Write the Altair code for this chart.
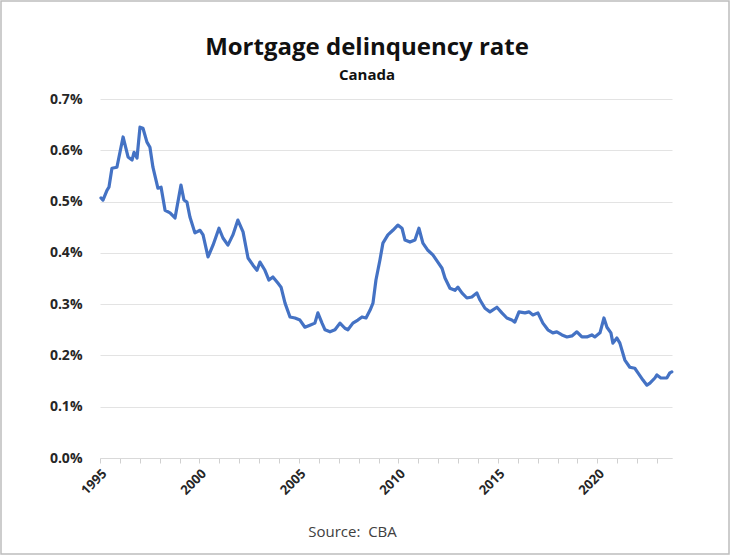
import altair as alt
import pandas as pd

years = [1995.05, 1995.15, 1995.35, 1995.45, 1995.6, 1995.85, 1996.16, 1996.41, 1996.61, 1996.71,
         1996.86, 1997.01, 1997.16, 1997.36, 1997.51, 1997.66, 1997.91, 1998.07, 1998.27, 1998.52,
         1998.77, 1999.07, 1999.22, 1999.37, 1999.52, 1999.77, 2000.03, 2000.18, 2000.43, 2000.68,
         2000.98, 2001.18, 2001.43, 2001.68, 2001.93, 2002.19, 2002.44, 2002.69, 2002.89, 2003.04,
         2003.29, 2003.49, 2003.69, 2003.94, 2004.10, 2004.30, 2004.55, 2004.80, 2005.05, 2005.30,
         2005.55, 2005.80, 2005.95, 2006.16, 2006.31, 2006.56, 2006.81, 2007.06, 2007.31, 2007.46,
         2007.71, 2007.96, 2008.17, 2008.37, 2008.57, 2008.72, 2008.87, 2009.07, 2009.22, 2009.47,
         2009.72, 2009.97, 2010.18, 2010.33, 2010.58, 2010.83, 2011.03, 2011.23, 2011.48, 2011.73,
         2011.98, 2012.19, 2012.34, 2012.59, 2012.84, 2012.99, 2013.19, 2013.44, 2013.69, 2013.94,
         2014.10, 2014.35, 2014.60, 2014.95, 2015.20, 2015.45, 2015.70, 2015.85, 2016.06, 2016.36,
         2016.56, 2016.76, 2017.01, 2017.26, 2017.51, 2017.76, 2017.96, 2018.22, 2018.47, 2018.72,
         2018.97, 2019.22, 2019.47, 2019.72, 2019.87, 2020.13, 2020.33, 2020.48, 2020.68, 2020.78,
         2020.98, 2021.13, 2021.38, 2021.63, 2021.88, 2022.04, 2022.29, 2022.49, 2022.64, 2022.89,
         2022.99, 2023.19, 2023.49, 2023.64, 2023.74]

rates = [0.507, 0.503, 0.522, 0.528, 0.565, 0.567, 0.626, 0.587, 0.581, 0.596,
         0.585, 0.645, 0.643, 0.616, 0.606, 0.567, 0.526, 0.528, 0.483, 0.478,
         0.468, 0.532, 0.503, 0.499, 0.470, 0.439, 0.444, 0.435, 0.392, 0.415,
         0.448, 0.429, 0.415, 0.435, 0.464, 0.441, 0.390, 0.376, 0.366, 0.382,
         0.366, 0.347, 0.353, 0.341, 0.333, 0.302, 0.275, 0.273, 0.269, 0.255,
         0.259, 0.263, 0.283, 0.263, 0.250, 0.246, 0.250, 0.263, 0.253, 0.250,
         0.263, 0.269, 0.275, 0.273, 0.288, 0.302, 0.347, 0.386, 0.419, 0.435,
         0.444, 0.454, 0.448, 0.425, 0.421, 0.425, 0.448, 0.419, 0.405, 0.396,
         0.382, 0.370, 0.351, 0.331, 0.327, 0.333, 0.322, 0.312, 0.314, 0.322,
         0.308, 0.292, 0.285, 0.294, 0.283, 0.273, 0.269, 0.265, 0.285, 0.283,
         0.285, 0.279, 0.283, 0.263, 0.250, 0.244, 0.246, 0.240, 0.236, 0.238,
         0.246, 0.236, 0.236, 0.240, 0.236, 0.244, 0.273, 0.255, 0.244, 0.224,
         0.234, 0.224, 0.191, 0.177, 0.175, 0.166, 0.152, 0.142, 0.146, 0.156,
         0.162, 0.156, 0.156, 0.166, 0.168]

tick_years = list(range(1995, 2024))
y_ticks = [0.0, 0.1, 0.2, 0.3, 0.4, 0.5, 0.6, 0.7]

df = pd.DataFrame({"year": years, "rate": [r / 100 for r in rates]})

FONT = "Open Sans"

line = alt.Chart(df).mark_line(
    color="#4472C4", strokeWidth=3.2, strokeJoin="round", strokeCap="round"
).encode(
    x=alt.X("year:Q",
            scale=alt.Scale(domain=[1995, 2023.75], nice=False, zero=False),
            axis=alt.Axis(
                values=tick_years,
                labelExpr="datum.value % 5 == 0 ? datum.value : ''",
                labelOverlap=False,
                labelAngle=-45, labelAlign="right", labelBaseline="top",
                labelFont=FONT, labelFontSize=13, labelFontWeight="bold", labelColor="#262626",
                labelPadding=4,
                grid=False, domainColor="#d9d9d9", domainWidth=1,
                tickColor="#d0d0d0", tickSize=5, tickWidth=1,
                title="Source:\u00a0\u00a0CBA", titleFont=FONT, titleFontSize=15,
                titleFontWeight="normal", titleColor="#404040",
                titleX=252, titleY=78, titleAnchor="middle", titleBaseline="alphabetic",
            )),
    y=alt.Y("rate:Q",
            scale=alt.Scale(domain=[0, 0.007], nice=False),
            axis=alt.Axis(
                values=[v / 100 for v in y_ticks], format=".1%",
                labelFont=FONT, labelFontSize=14, labelFontWeight="bold", labelColor="#262626",
                labelPadding=18,
                grid=True, gridColor="#e3e3e3", gridWidth=1,
                domain=False, ticks=False, title=None,
            )),
)

frame = alt.Chart(alt.Data(values=[{}])).mark_rect(
    filled=False, stroke="#bdbdbd", strokeWidth=1.5
).encode(
    x=alt.value(-99), x2=alt.value(629), y=alt.value(-98), y2=alt.value(455)
)

chart = alt.layer(line, frame).properties(
    width=572, height=359,
    title=alt.TitleParams(
        text="Mortgage delinquency rate", subtitle="Canada",
        font=FONT, fontSize=24, fontWeight="bold", color="#111111",
        subtitleFont=FONT, subtitleFontSize=15, subtitleFontWeight="bold", subtitleColor="#111111",
        subtitlePadding=8, anchor="middle", offset=-82.75, dx=-19,
    ),
).configure(
    autosize=alt.AutoSizeParams(type="none"),
    padding={"left": 100, "top": 99, "right": 60, "bottom": 99},
    background="white",
).configure_view(stroke=None)

chart.save("out.html", embed_options={"renderer": "svg", "actions": False})
